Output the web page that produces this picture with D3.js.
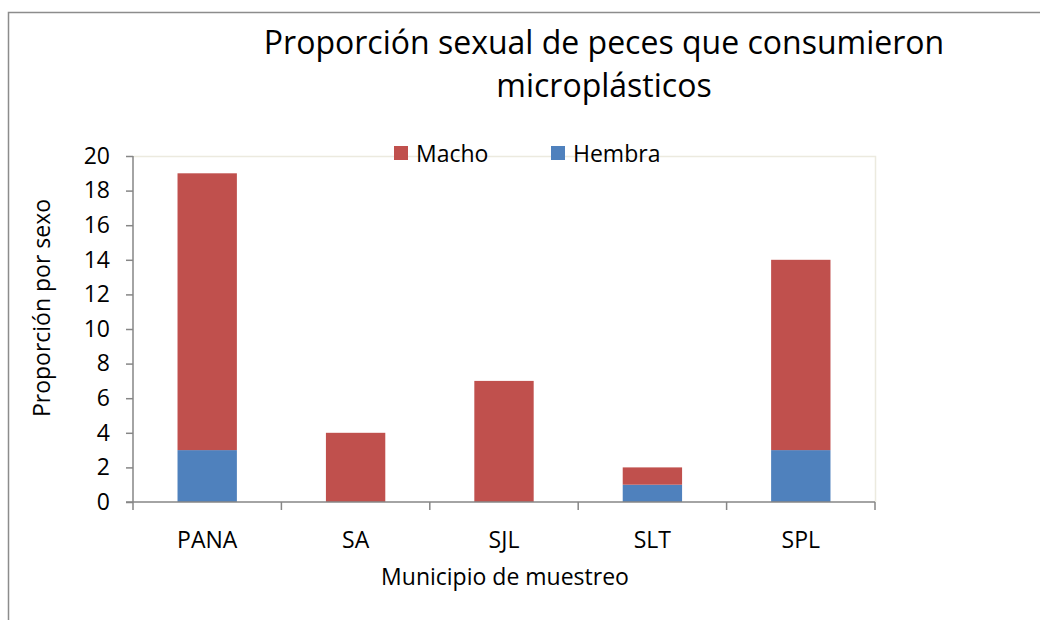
<!DOCTYPE html>
<html>
<head>
<meta charset="utf-8">
<script src="https://cdn.jsdelivr.net/npm/d3@7"></script>
<style>
  body { margin: 0; background: #fff; }
  svg text { font-family: "Open Sans", "Noto Sans", sans-serif; fill: #000; }
</style>
</head>
<body>
<div class="canva"></div>
<script>
// data
const municipios = ["PANA", "SA", "SJL", "SLT", "SPL"];
const hembra = [3, 0, 0, 1, 3];
const macho = [16, 4, 7, 1, 11];
const seriesNames = ["Hembra", "Macho"];
const yTicks = [0, 2, 4, 6, 8, 10, 12, 14, 16, 18, 20];

const colors = { Macho: "#C0504D", Hembra: "#4F81BD" };
const fs = 23; // label font size

const svg = d3.select(".canva")
	.append("svg")
	.attr("width", 1040)
	.attr("height", 620);

// outer chart border
svg.append("rect")
	.attr("x", 8.5).attr("y", 12.5)
	.attr("width", 1100).attr("height", 700)
	.attr("fill", "none")
	.attr("stroke", "#8c8c8c")
	.attr("stroke-width", 1.5);

const plot = { left: 133, right: 875, top: 156, bottom: 502 };

const x = d3.scaleBand()
	.domain(municipios)
	.range([plot.left, plot.right])
	.paddingInner(0.6)
	.paddingOuter(0.3);

const xEdges = d3.scaleLinear()
	.domain([0, municipios.length])
	.range([plot.left, plot.right]);

const y = d3.scaleLinear()
	.domain([0, 20])
	.range([plot.bottom, plot.top]);

// plot area frame (light)
svg.append("path")
	.attr("d", `M${plot.left},${plot.top + 0.5}H${plot.right + 0.5}V${plot.bottom}`)
	.attr("fill", "none")
	.attr("stroke", "#eceadf")
	.attr("stroke-width", 1.5);

// stack data
const table = municipios.map((m, i) => ({ m: m, Hembra: hembra[i], Macho: macho[i] }));
const stacked = d3.stack().keys(seriesNames)(table);

svg.append("g")
	.selectAll("g")
	.data(stacked)
	.enter()
	.append("g")
	.attr("fill", d => colors[d.key])
	.selectAll("rect")
	.data(d => d)
	.enter()
	.append("rect")
	.attr("x", d => x(d.data.m))
	.attr("width", x.bandwidth())
	.attr("y", d => y(d[1]))
	.attr("height", d => y(d[0]) - y(d[1]));

// y axis
const yAxis = svg.append("g")
	.attr("transform", `translate(${plot.left},0)`)
	.call(d3.axisLeft(y).tickValues(yTicks).tickSize(7).tickPadding(16));
yAxis.selectAll("path, line").attr("stroke", "#868686").attr("stroke-width", 1.5);
yAxis.select(".domain").attr("d", `M0,${plot.top}V${plot.bottom}`);
yAxis.selectAll("text").attr("font-size", fs).attr("font-family", "Open Sans");

// x axis: ticks at category boundaries
const xAxis = svg.append("g")
	.attr("transform", `translate(0,${plot.bottom})`);
xAxis.append("path")
	.attr("d", `M${plot.left - 7},0H${plot.right}`)
	.attr("stroke", "#868686")
	.attr("stroke-width", 1.5)
	.attr("fill", "none");
xAxis.selectAll("line")
	.data(d3.range(municipios.length + 1))
	.enter()
	.append("line")
	.attr("x1", d => xEdges(d)).attr("x2", d => xEdges(d))
	.attr("y1", 0).attr("y2", 8)
	.attr("stroke", "#868686")
	.attr("stroke-width", 1.5);
xAxis.selectAll("text")
	.data(municipios)
	.enter()
	.append("text")
	.attr("x", d => x(d) + x.bandwidth() / 2)
	.attr("y", 46)
	.attr("text-anchor", "middle")
	.attr("font-size", fs)
	.text(d => d);

// titles
const title = svg.append("text")
	.attr("text-anchor", "middle")
	.attr("font-size", 32);
title.append("tspan").attr("x", 604).attr("y", 54).text("Proporción sexual de peces que consumieron");
title.append("tspan").attr("x", 604).attr("y", 97).text("microplásticos");

svg.append("text")
	.attr("x", 505).attr("y", 585)
	.attr("text-anchor", "middle")
	.attr("font-size", fs)
	.text("Municipio de muestreo");

svg.append("text")
	.attr("transform", "translate(50,308) rotate(-90)")
	.attr("text-anchor", "middle")
	.attr("font-size", fs)
	.text("Proporción por sexo");

// legend
const legendItems = [
	{ key: "Macho", x: 394 },
	{ key: "Hembra", x: 551 }
];
const legend = svg.append("g")
	.selectAll("g")
	.data(legendItems)
	.enter()
	.append("g")
	.attr("transform", d => `translate(${d.x},146)`);
legend.append("rect")
	.attr("width", 14).attr("height", 14)
	.attr("fill", d => colors[d.key]);
legend.append("text")
	.attr("x", 22).attr("y", 16)
	.attr("font-size", fs)
	.text(d => d.key);
</script>
</body>
</html>
